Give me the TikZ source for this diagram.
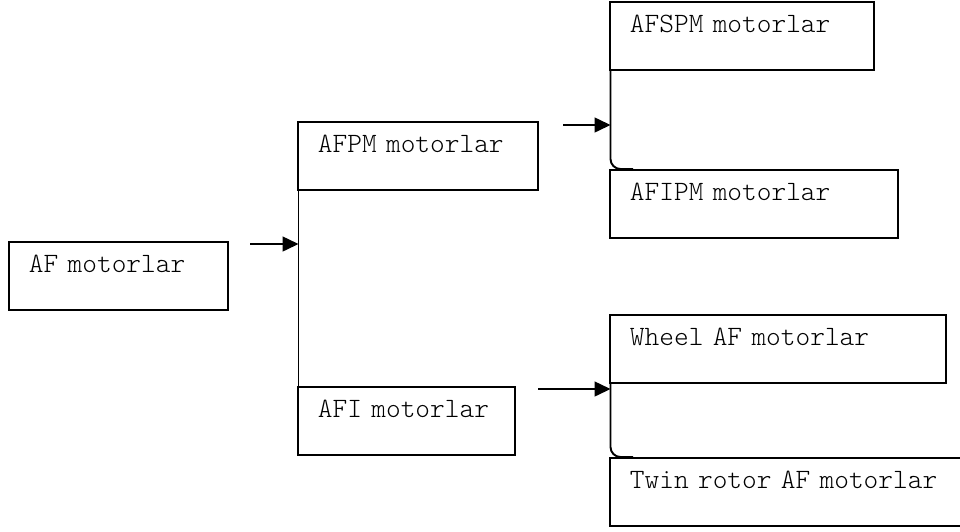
\documentclass[tikz,border=0pt]{standalone}
\usepackage{tikz}
\usetikzlibrary{positioning, arrows.meta, calc}
\tikzset{
	>={Triangle[length=16pt, width=15pt]},
	% kutu (metin sol ustte)
	kutu/.style={draw, line width=1.9pt, rectangle, anchor=north west, inner xsep=20pt, inner ysep=0pt,
	             text height=31pt, text depth=37pt, text width=#1-40pt, align=left,
	             font=\fontseries{l}\ttfamily\fontsize{28}{30}\selectfont},
	% dal cizgisi
	dal/.style={line width=1.9pt},
	% ok
	okcizgi/.style={->, line width=1.5pt},
}

\begin{document}
\begin{tikzpicture}[x=1pt, y=-1pt]
    \useasboundingbox (0,0) rectangle (960,531);
    \node[kutu=219pt] (af) at (8,241) {AF motorlar};
    \node[kutu=240pt] (afpm) at (297,121) {AFPM motorlar};
    \node[kutu=217pt] (afi) at (297,386) {AFI motorlar};
    \node[kutu=264pt] (afspm) at (609,1) {AFSPM motorlar};
    \node[kutu=288pt] (afipm) at (609,169) {AFIPM motorlar};
    \node[kutu=336pt] (wheel) at (609,314) {Wheel AF motorlar};
    \node[kutu=370pt] (twin) at (609,457) {Twin rotor AF motorlar};
    % dallar
    \draw[dal] ([xshift=1.5pt]afpm.south west) -- ([xshift=1.5pt]afi.north west);
    \draw[dal, rounded corners=10pt] ([xshift=1.5pt]afspm.south west) |- ([xshift=24pt]afipm.north west);
    \draw[dal, rounded corners=10pt] ([xshift=1.5pt]wheel.south west) |- ([xshift=24pt]twin.north west);
    % oklar
    \coordinate (g1) at (250,244);
    \coordinate (g2) at (563,125);
    \coordinate (g3) at (538,389);
    \draw[okcizgi] (g1) -- ($(g1 -| afpm.west)+(1.5,0)$);
    \draw[okcizgi] (g2) -- ($(g2 -| afspm.west)+(1.5,0)$);
    \draw[okcizgi] (g3) -- ($(g3 -| wheel.west)+(1.5,0)$);
\end{tikzpicture}
\end{document}
